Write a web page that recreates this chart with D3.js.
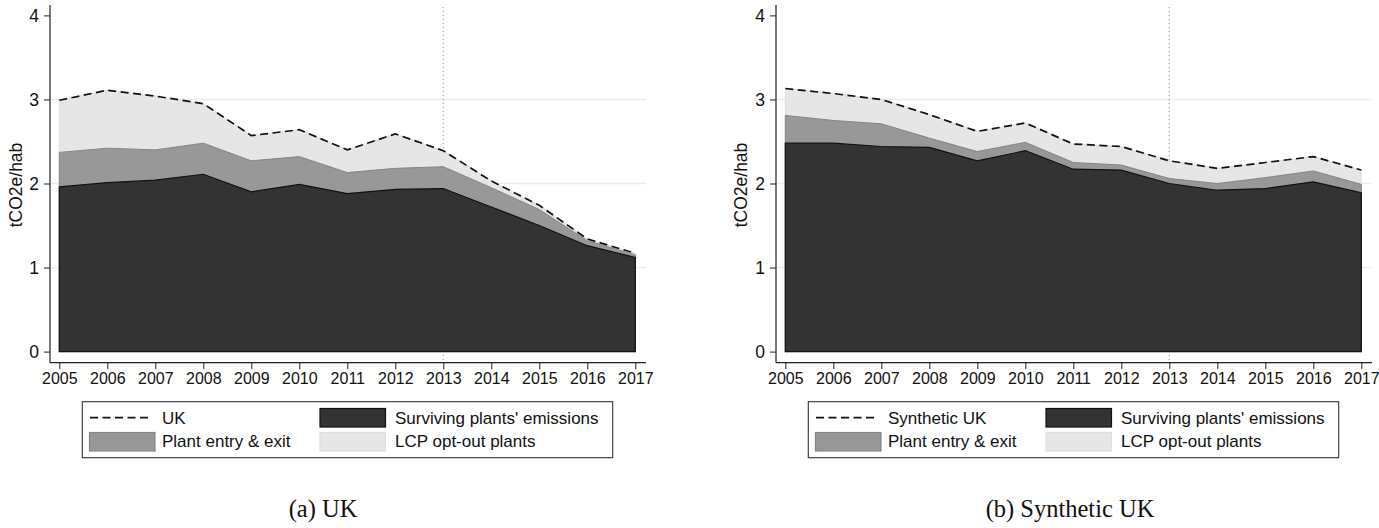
<!DOCTYPE html>
<html>
<head>
<meta charset="utf-8">
<script src="https://cdn.jsdelivr.net/npm/d3@7"></script>
<style>
  html, body { margin: 0; padding: 0; background: #ffffff; }
  svg { display: block; }
  .tick text { font-family: "Liberation Sans", Arial, sans-serif; fill: #111; }
</style>
</head>
<body>
<svg id="chart" width="1379" height="528"></svg>
<script>
// Years on the horizontal axis
const years = [2005, 2006, 2007, 2008, 2009, 2010, 2011, 2012, 2013, 2014, 2015, 2016, 2017];
const yTicks = [0, 1, 2, 3, 4];
const treatmentYear = 2013;

// Panel (a): observed UK emissions per inhabitant (tCO2e/hab)
const ukTotal     = [2.99, 3.11, 3.04, 2.95, 2.57, 2.64, 2.40, 2.59, 2.39, 2.03, 1.74, 1.34, 1.17];
const ukEntryTop  = [2.37, 2.42, 2.40, 2.48, 2.27, 2.32, 2.13, 2.18, 2.20, 1.95, 1.69, 1.32, 1.15];
const ukSurviving = [1.96, 2.01, 2.04, 2.11, 1.90, 1.99, 1.88, 1.93, 1.94, 1.72, 1.50, 1.26, 1.12];

// Panel (b): synthetic UK emissions per inhabitant (tCO2e/hab)
const synTotal     = [3.13, 3.07, 3.00, 2.82, 2.62, 2.72, 2.47, 2.44, 2.27, 2.18, 2.25, 2.32, 2.16];
const synEntryTop  = [2.81, 2.75, 2.71, 2.54, 2.38, 2.49, 2.25, 2.22, 2.06, 2.00, 2.07, 2.15, 1.99];
const synSurviving = [2.48, 2.48, 2.44, 2.43, 2.27, 2.39, 2.17, 2.16, 2.00, 1.92, 1.94, 2.02, 1.89];

// Legend and caption text
const legendSurviving = "Surviving plants' emissions";
const legendEntry = "Plant entry & exit";
const legendOptOut = "LCP opt-out plants";
const yLabel = "tCO2e/hab";

const colors = {
  dark: "#333333", darkLine: "#111111",
  mid: "#989898", midLine: "#858585",
  light: "#e6e6e6", lightLine: "#dedede",
  grid: "#e8eff0", axis: "#222222"
};

const svg = d3.select("#chart");
svg.append("rect").attr("width", 1379).attr("height", 528).attr("fill", "#fff");

function drawPanel(cfg) {
  const g = svg.append("g").attr("transform", `translate(${cfg.dx},0)`);
  const x = d3.scaleLinear().domain([2005, 2017]).range([59.3, 635.3]);
  const y = d3.scaleLinear().domain([0, 4]).range([351.6, 15.4]);
  const axisX = 50, axisY = 362.7, axisTop = 5, axisRight = 646;

  // horizontal gridlines
  g.selectAll("line.grid").data(yTicks.filter(t => t > 0 && t < 4)).enter()
    .append("line").attr("class", "grid")
    .attr("x1", axisX).attr("x2", axisRight)
    .attr("y1", d => y(d)).attr("y2", d => y(d))
    .attr("stroke", colors.grid).attr("stroke-width", 1.4);

  // dotted reference line at the treatment year
  g.append("line")
    .attr("x1", x(treatmentYear)).attr("x2", x(treatmentYear))
    .attr("y1", axisTop + 2).attr("y2", axisY)
    .attr("stroke", "#8a8a8a").attr("stroke-width", 1)
    .attr("stroke-dasharray", "1,3");

  const area = vals => d3.area()
    .x((d, i) => x(years[i]))
    .y0(y(0))
    .y1((d, i) => y(vals[i]))(vals);

  g.append("path").attr("d", area(cfg.total))
    .attr("fill", colors.light).attr("stroke", colors.lightLine).attr("stroke-width", 1);
  g.append("path").attr("d", area(cfg.entryTop))
    .attr("fill", colors.mid).attr("stroke", colors.midLine).attr("stroke-width", 1);
  g.append("path").attr("d", area(cfg.surviving))
    .attr("fill", colors.dark).attr("stroke", colors.darkLine).attr("stroke-width", 1.2);

  // total emissions, dashed
  g.append("path")
    .attr("d", d3.line().x((d, i) => x(years[i])).y(d => y(d))(cfg.total))
    .attr("fill", "none").attr("stroke", "#111").attr("stroke-width", 1.7)
    .attr("stroke-dasharray", "8,4.5");

  // axes
  const yAxis = d3.axisLeft(y).tickValues(yTicks).tickSize(6).tickPadding(5).tickFormat(d3.format("d"));
  const yg = g.append("g").attr("transform", `translate(${axisX},0)`).call(yAxis);
  yg.select(".domain").remove();
  yg.selectAll(".tick line").attr("stroke", colors.axis);
  yg.selectAll(".tick text").attr("font-size", 17.5);

  const xAxis = d3.axisBottom(x).tickValues(years).tickSize(6.5).tickPadding(3.5).tickFormat(d3.format("d"));
  const xg = g.append("g").attr("transform", `translate(0,${axisY})`).call(xAxis);
  xg.select(".domain").remove();
  xg.selectAll(".tick line").attr("stroke", colors.axis);
  xg.selectAll(".tick text").attr("font-size", 16);

  g.append("line").attr("x1", axisX).attr("x2", axisX).attr("y1", axisTop).attr("y2", axisY)
    .attr("stroke", colors.axis).attr("stroke-width", 1.2);
  g.append("line").attr("x1", axisX).attr("x2", axisRight).attr("y1", axisY).attr("y2", axisY)
    .attr("stroke", colors.axis).attr("stroke-width", 1.2);

  // y-axis title
  g.append("text")
    .attr("transform", `translate(${cfg.labelX},185) rotate(-90)`)
    .attr("text-anchor", "middle")
    .attr("font-family", "Liberation Sans, Arial, sans-serif")
    .attr("font-size", 17.5).attr("fill", "#111")
    .text(yLabel);

  // legend
  const lg = g.append("g").attr("font-family", "Liberation Sans, Arial, sans-serif")
    .attr("font-size", 17).attr("fill", "#111");
  lg.append("rect").attr("x", 82.3).attr("y", 401.7).attr("width", 530.4).attr("height", 56)
    .attr("fill", "#fff").attr("stroke", "#333").attr("stroke-width", 1.1);
  lg.append("line").attr("x1", 90).attr("x2", 152).attr("y1", 417.7).attr("y2", 417.7)
    .attr("stroke", "#111").attr("stroke-width", 1.7).attr("stroke-dasharray", "8,4.5");
  lg.append("text").attr("x", 162).attr("y", 424).text(cfg.seriesName);
  lg.append("rect").attr("x", 89.5).attr("y", 432.5).attr("width", 65.5).attr("height", 18.5)
    .attr("fill", colors.mid).attr("stroke", colors.midLine).attr("stroke-width", 1.2);
  lg.append("text").attr("x", 162).attr("y", 447).text(legendEntry);
  lg.append("rect").attr("x", 320).attr("y", 408.5).attr("width", 65.5).attr("height", 18.5)
    .attr("fill", colors.dark).attr("stroke", colors.darkLine).attr("stroke-width", 1.2);
  lg.append("text").attr("x", 395).attr("y", 424).text(legendSurviving);
  lg.append("rect").attr("x", 320).attr("y", 432.5).attr("width", 65.5).attr("height", 18.5)
    .attr("fill", colors.light).attr("stroke", colors.lightLine).attr("stroke-width", 1.2);
  lg.append("text").attr("x", 395).attr("y", 447).text(legendOptOut);

  // caption below the panel
  svg.append("text")
    .attr("x", cfg.captionX).attr("y", 517)
    .attr("text-anchor", "middle")
    .attr("font-family", "Liberation Serif, 'DejaVu Serif', serif")
    .attr("font-size", 24.5).attr("fill", "#111")
    .text(cfg.caption);
}

drawPanel({ dx: 0, total: ukTotal, entryTop: ukEntryTop, surviving: ukSurviving,
  seriesName: "UK", caption: "(a) UK", captionX: 323, labelX: 22 });
drawPanel({ dx: 726, total: synTotal, entryTop: synEntryTop, surviving: synSurviving,
  seriesName: "Synthetic UK", caption: "(b) Synthetic UK", captionX: 1070, labelX: 21 });
</script>
</body>
</html>
